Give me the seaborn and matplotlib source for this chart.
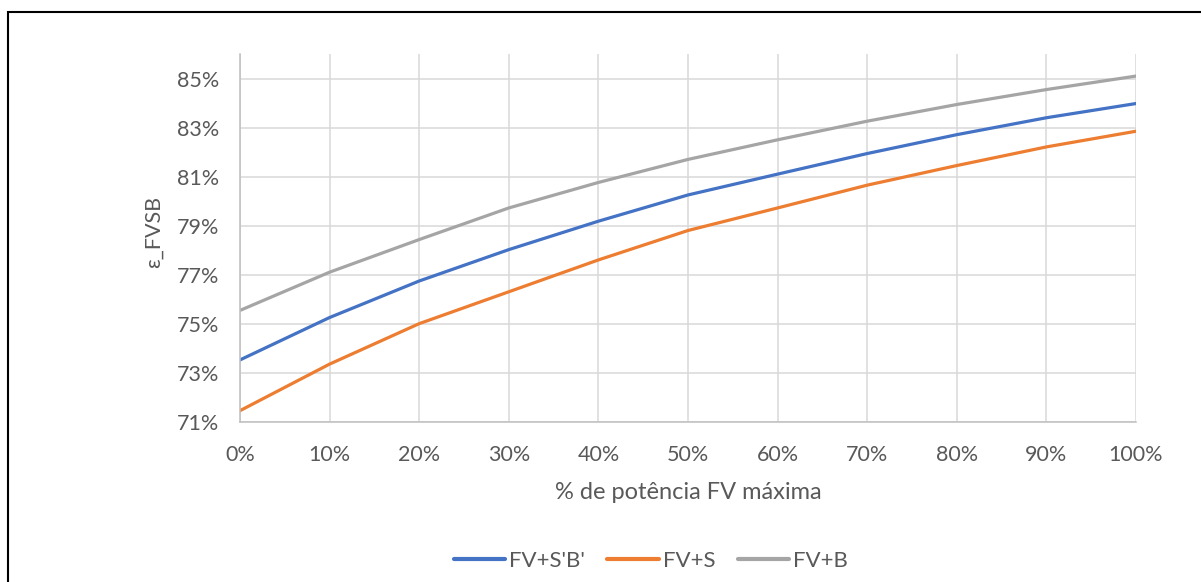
import matplotlib
matplotlib.use('Agg')
import matplotlib.pyplot as plt
from matplotlib.ticker import PercentFormatter
import numpy as np
import pandas as pd
import seaborn as sns

# % of max PV power (x) and epsilon_FVSB in % for each configuration
potencia = [0, 10, 20, 30, 40, 50, 60, 70, 80, 90, 100]
fv_sb = [73.52, 75.25, 76.74, 78.02, 79.18, 80.25, 81.10, 81.94, 82.71, 83.40, 83.98]
fv_s = [71.45, 73.35, 75.00, 76.30, 77.60, 78.80, 79.72, 80.65, 81.45, 82.21, 82.85]
fv_b = [75.54, 77.10, 78.43, 79.72, 80.76, 81.70, 82.50, 83.26, 83.94, 84.55, 85.10]

series_names = ["FV+S'B'", 'FV+S', 'FV+B']
cores = ['#4472C4', '#ED7D31', '#A5A5A5']

df = pd.DataFrame({
    'x': potencia * 3,
    'y': fv_sb + fv_s + fv_b,
    'serie': [series_names[0]] * 11 + [series_names[1]] * 11 + [series_names[2]] * 11,
})

sns.set_style('white')
plt.rcParams['font.family'] = ['Lato', 'DejaVu Sans']

fig = plt.figure(figsize=(12.01, 5.82), dpi=100)
ax = fig.add_axes([0.1998, 0.2754, 0.9459 - 0.1998, 0.9072 - 0.2754])

sns.lineplot(data=df, x='x', y='y', hue='serie', palette=cores,
             hue_order=series_names, linewidth=2.3, ax=ax, legend=False)

ax.set_xlim(0, 100)
ax.set_ylim(71, 86)
ax.set_xticks(np.arange(0, 101, 10))
ax.set_yticks(np.arange(71, 86, 2))
ax.xaxis.set_major_formatter(PercentFormatter(decimals=0))
ax.yaxis.set_major_formatter(PercentFormatter(decimals=0))

ax.grid(True, color='#D9D9D9', linewidth=1.1)
ax.set_axisbelow(True)
for s in ['top', 'right']:
    ax.spines[s].set_visible(False)
for s in ['left', 'bottom']:
    ax.spines[s].set_color('#BFBFBF')
    ax.spines[s].set_linewidth(1.1)

ax.tick_params(length=0, labelsize=15.5, labelcolor='#595959')
ax.tick_params(axis='x', pad=17)
ax.tick_params(axis='y', pad=15)

ax.set_xlabel('% de potência FV máxima', fontsize=17, color='#595959', labelpad=12)
ax.set_ylabel('ε_FVSB', fontsize=15.5, color='#595959')
ax.yaxis.set_label_coords(-0.085, 0.515)

# legend below the plot
handles = [plt.Line2D([], [], color=c, linewidth=3) for c in cores]
fig.legend(handles, series_names, loc='center', bbox_to_anchor=(651 / 1201, 1 - 561 / 582),
           ncol=3, frameon=False, fontsize=16, handlelength=2.3, handletextpad=0.2,
           columnspacing=1.0, labelcolor='#595959')

# chart frame (partly cut by the image edge)
fig.add_artist(plt.Rectangle((8 / 1201, -0.1), 1.2, 1 - 12 / 582 + 0.1,
                             transform=fig.transFigure, fill=False,
                             edgecolor='black', linewidth=1.5))

fig.savefig('out.png', dpi=100)
